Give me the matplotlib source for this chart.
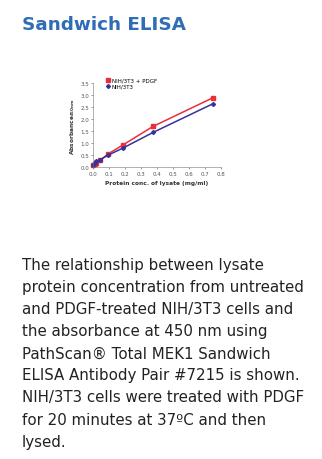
import matplotlib
matplotlib.use("Agg")
import matplotlib.pyplot as plt

# lysate protein conc. (mg/ml) and absorbance at 450 nm
conc = [0.0, 0.012, 0.023, 0.047, 0.094, 0.1875, 0.375, 0.75]
pdgf = [0.08, 0.13, 0.20, 0.30, 0.55, 0.93, 1.70, 2.90]
untreated = [0.10, 0.18, 0.25, 0.32, 0.50, 0.80, 1.45, 2.65]
labels = ["NIH/3T3 + PDGF", "NIH/3T3"]
xticks = [0.0, 0.1, 0.2, 0.3, 0.4, 0.5, 0.6, 0.7, 0.8]
yticks = [0.0, 0.5, 1.0, 1.5, 2.0, 2.5, 3.0, 3.5]

RED = "#EC2D3A"
BLUE = "#333399"
TITLE = "#2F6DB5"

fig = plt.figure(figsize=(3.22, 4.60), dpi=100)
fig.text(22 / 322, 1 - 25 / 460, "Sandwich ELISA", color=TITLE, fontsize=13.2,
         fontweight="bold", va="center", ha="left")

ax = fig.add_axes([0.288, 0.634, 0.399, 0.183])
ax.plot(conc, pdgf, "s-", color=RED, lw=1.1, ms=2.2, label=labels[0], clip_on=False)
ax.plot(conc, untreated, "D-", color=BLUE, lw=1.1, ms=2.0, label=labels[1], clip_on=False)
ax.set_xlim(0, 0.8); ax.set_ylim(0, 3.5)
ax.set_xticks(xticks); ax.set_yticks(yticks)
ax.set_xticklabels([f"{v:.1f}" for v in xticks])
ax.set_yticklabels([f"{v:.1f}" for v in yticks])
ax.tick_params(labelsize=4, length=1.5, width=0.4, pad=1, colors="#555555")
for s in ("top", "right"):
    ax.spines[s].set_visible(False)
for s in ("left", "bottom"):
    ax.spines[s].set_linewidth(0.4)
    ax.spines[s].set_color("#777777")
ax.set_xlabel("Protein conc. of lysate (mg/ml)", fontsize=4.2, fontweight="bold",
              labelpad=3, color="#333333")
ax.set_ylabel("Absorbance$_{\\mathbf{450nm}}$", fontsize=4.2, fontweight="bold",
              labelpad=2.5, color="#333333")
ax.legend(loc="upper left", bbox_to_anchor=(0.1, 1.1), frameon=False, fontsize=4,
          handlelength=0, handletextpad=0.6, markerscale=1.0, borderpad=0,
          labelspacing=0.2)
leg = ax.get_legend()
for h in leg.get_lines():
    h.set_linestyle("none")

caption = ("The relationship between lysate\n"
           "protein concentration from untreated\n"
           "and PDGF-treated NIH/3T3 cells and\n"
           "the absorbance at 450 nm using\n"
           "PathScan\u00ae Total MEK1 Sandwich\n"
           "ELISA Antibody Pair #7215 is shown.\n"
           "NIH/3T3 cells were treated with PDGF\n"
           "for 20 minutes at 37\u00baC and then\n"
           "lysed.")
fig.text(22 / 322, 1 - 258 / 460, caption, fontsize=10.8, color="#222222",
         va="top", ha="left", linespacing=1.59)

fig.savefig("out.png", dpi=100)
